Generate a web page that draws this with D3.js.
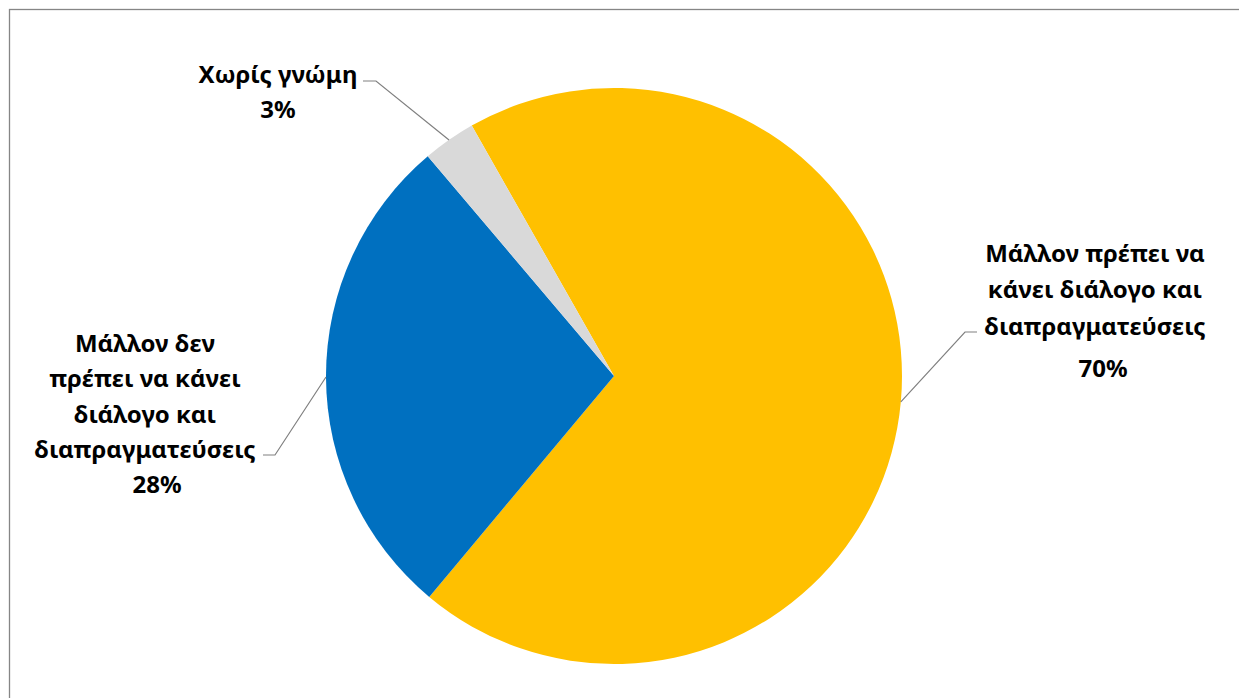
<!DOCTYPE html>
<html><head><meta charset="utf-8">
<script src="https://cdn.jsdelivr.net/npm/d3@7"></script>
<style>html,body{margin:0;padding:0;background:#fff;overflow:hidden}</style>
</head><body>
<svg id="chart" width="1239" height="698"></svg>
<script>
const categories = ["Μάλλον πρέπει να κάνει διάλογο και διαπραγματεύσεις", "Μάλλον δεν πρέπει να κάνει διάλογο και διαπραγματεύσεις", "Χωρίς γνώμη"];
const values = [70, 28, 3];
const labelLines = [
  ["Μάλλον πρέπει να", "κάνει διάλογο και", "διαπραγματεύσεις"],
  ["Μάλλον δεν", "πρέπει να κάνει", "διάλογο και", "διαπραγματεύσεις"],
  ["Χωρίς γνώμη"]
];
const percentLabels = ["70%", "28%", "3%"];
const colors = ["#FFC000", "#0070C0", "#D9D9D9"];

const svg = d3.select("#chart");
svg.append("rect").attr("x", 9.5).attr("y", 9.5).attr("width", 1250).attr("height", 710)
  .attr("fill", "#fff").attr("stroke", "#868686").attr("stroke-width", 1.3);

const cx = 614, cy = 376, R = 288;
const start = -29.6 * Math.PI / 180;
const pie = d3.pie().sort(null).startAngle(start).endAngle(start + 2 * Math.PI);
const arcs = pie(values);
const arc = d3.arc().innerRadius(0).outerRadius(R);
const g = svg.append("g").attr("transform", `translate(${cx},${cy})`);
g.selectAll("path").data(arcs).enter().append("path")
  .attr("d", arc).attr("fill", (d, i) => colors[i]);

const font = "'Noto Sans', 'Open Sans', sans-serif";
// fit font size so the widest word matches the reference width (~229px)
const probe = svg.append("text").attr("font-family", font).attr("font-weight", "bold")
  .attr("font-size", 20).text("διαπραγματεύσεις");
const w20 = probe.node().getComputedTextLength();
probe.remove();
const fs = Math.min(24, 20 * 229 / w20);

const labelPos = [
  {x: 1095, y: 252, px: 1103, py: 367, dy: 36.5, hook: [977, 332], hookEnd: [965, 332]},
  {x: 145, y: 342, px: 157, py: 483, dy: 35.5, hook: [263, 455], hookEnd: [275, 455]},
  {x: 278, y: 73, px: 278, py: 108, dy: 35, hook: [363, 81], hookEnd: [376, 81]}
];
arcs.forEach((d, i) => {
  const a = (d.startAngle + d.endAngle) / 2;
  const ex = cx + Math.sin(a) * R, ey = cy - Math.cos(a) * R;
  const lp = labelPos[i];
  svg.append("polyline")
    .attr("points", [lp.hook, lp.hookEnd, [ex, ey]].map(p => p.join(",")).join(" "))
    .attr("fill", "none").attr("stroke", "#808080").attr("stroke-width", 1.2);
  labelLines[i].forEach((t, j) => {
    svg.append("text").attr("x", lp.x).attr("y", lp.y + j * lp.dy)
      .attr("text-anchor", "middle").attr("dominant-baseline", "central")
      .attr("font-family", font).attr("font-weight", "bold").attr("font-size", fs)
      .attr("fill", "#000").text(t);
  });
  svg.append("text").attr("x", lp.px).attr("y", lp.py)
    .attr("text-anchor", "middle").attr("dominant-baseline", "central")
    .attr("font-family", font).attr("font-weight", "bold").attr("font-size", fs)
    .attr("fill", "#000").text(percentLabels[i]);
});
</script>
</body></html>
